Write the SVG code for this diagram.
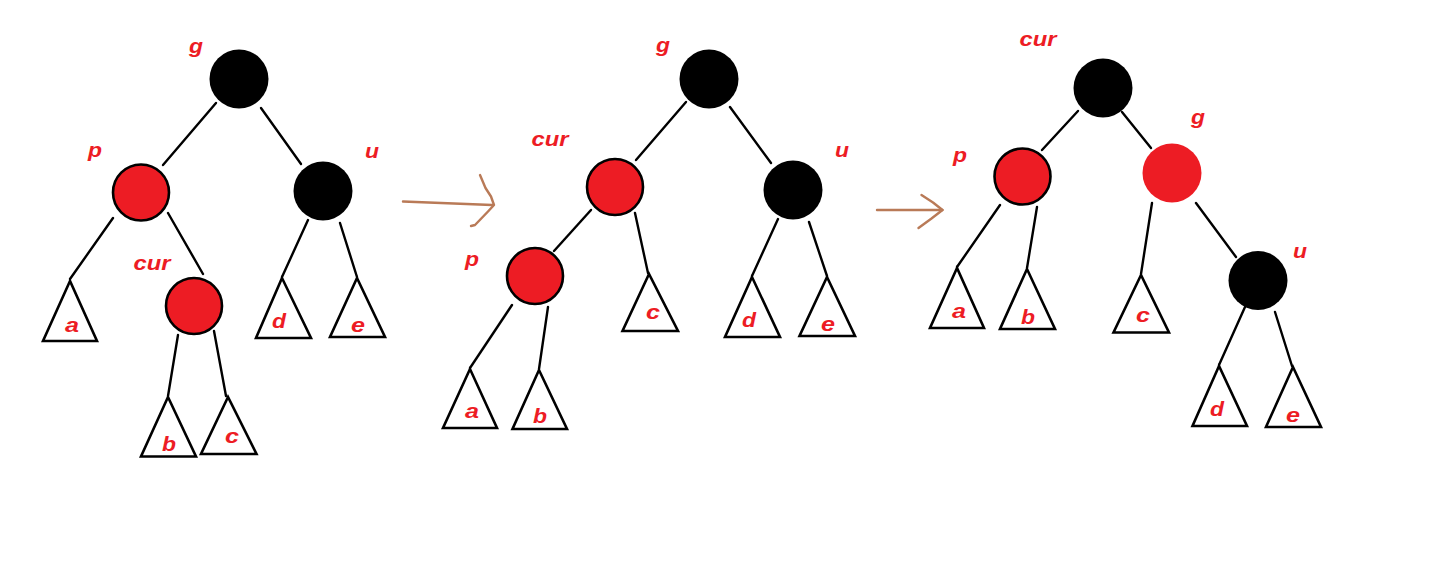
<svg xmlns="http://www.w3.org/2000/svg" width="1437" height="568" viewBox="0 0 1437 568">
<style>
.edge{stroke:#000;stroke-width:2.4;fill:none;stroke-linecap:round}
.red{fill:#ED1C24;stroke:#000;stroke-width:2.6}
.redn{fill:#ED1C24}
.blk{fill:#000}
.tri{fill:#fff;stroke:#000;stroke-width:2.6;stroke-linejoin:miter}
.lbl{font-family:"Liberation Sans",Arial,sans-serif;font-weight:bold;font-style:italic;font-size:21px;fill:#ED1C24;text-anchor:middle}
.arr{stroke:#B97A57;stroke-width:2.4;fill:none;stroke-linecap:round;stroke-linejoin:round}
</style>
<rect width="1437" height="568" fill="#fff"/>
<g id="connectors">
<!-- left tree -->
<line class="edge" x1="216" y1="103" x2="163" y2="165"/>
<line class="edge" x1="261" y1="108" x2="301" y2="164"/>
<line class="edge" x1="113" y1="218" x2="70" y2="279"/>
<line class="edge" x1="168" y1="213" x2="203" y2="274"/>
<line class="edge" x1="308" y1="220" x2="282" y2="277"/>
<line class="edge" x1="340" y1="223" x2="357" y2="277"/>
<line class="edge" x1="178" y1="335" x2="168" y2="396"/>
<line class="edge" x1="214" y1="331" x2="226" y2="396"/>
<!-- middle tree -->
<line class="edge" x1="686" y1="102" x2="636" y2="160"/>
<line class="edge" x1="730" y1="107" x2="771" y2="163"/>
<line class="edge" x1="591" y1="210" x2="554" y2="251"/>
<line class="edge" x1="635" y1="213" x2="648" y2="273"/>
<line class="edge" x1="778" y1="219" x2="752" y2="276"/>
<line class="edge" x1="809" y1="222" x2="827" y2="276"/>
<line class="edge" x1="512" y1="305" x2="470" y2="368"/>
<line class="edge" x1="548" y1="307" x2="539" y2="369"/>
<!-- right tree -->
<line class="edge" x1="1078" y1="111" x2="1042" y2="150"/>
<line class="edge" x1="1122" y1="112" x2="1151" y2="148"/>
<line class="edge" x1="1000" y1="205" x2="957" y2="267"/>
<line class="edge" x1="1037" y1="207" x2="1027" y2="268"/>
<line class="edge" x1="1152" y1="203" x2="1141" y2="274"/>
<line class="edge" x1="1196" y1="203" x2="1236" y2="257"/>
<line class="edge" x1="1245" y1="307" x2="1219" y2="365"/>
<line class="edge" x1="1275" y1="312" x2="1292" y2="366"/>
<!-- transition arrows -->
<path class="arr" d="M403,201.5 L492,205"/>
<path class="arr" d="M480,175 L485.5,188 L491,196.5 L494,205 L488,211.5 L475,225 L471,226"/>
<path class="arr" d="M877,210 L942.5,210"/>
<path class="arr" d="M921.5,195 L933,202.5 L942.5,210 L931.5,218.5 L918.5,228"/>
</g>

<!-- left tree -->
<g id="L-g"><circle class="blk" cx="239" cy="79" r="29.5"/><text class="lbl" x="196" y="53" textLength="14" lengthAdjust="spacingAndGlyphs">g</text></g>
<g id="L-p"><circle class="red" cx="141" cy="192.5" r="28"/><text class="lbl" x="95" y="157" textLength="14" lengthAdjust="spacingAndGlyphs">p</text></g>
<g id="L-u"><circle class="blk" cx="323" cy="191" r="29.5"/><text class="lbl" x="372" y="158" textLength="14" lengthAdjust="spacingAndGlyphs">u</text></g>
<g id="L-cur"><circle class="red" cx="194" cy="306" r="28"/><text class="lbl" x="152" y="270" textLength="37" lengthAdjust="spacingAndGlyphs">cur</text></g>
<g id="L-a"><polygon class="tri" points="70,281 43,341 97,341"/><text class="lbl" x="72" y="332" textLength="14" lengthAdjust="spacingAndGlyphs">a</text></g>
<g id="L-b"><polygon class="tri" points="168,397 141,456.5 196,456.5"/><text class="lbl" x="169" y="451" textLength="14" lengthAdjust="spacingAndGlyphs">b</text></g>
<g id="L-c"><polygon class="tri" points="228,397 201,454 256.5,454"/><text class="lbl" x="232" y="443" textLength="14" lengthAdjust="spacingAndGlyphs">c</text></g>
<g id="L-d"><polygon class="tri" points="282,278 256,338 311,338"/><text class="lbl" x="279" y="328" textLength="14" lengthAdjust="spacingAndGlyphs">d</text></g>
<g id="L-e"><polygon class="tri" points="357,278 330,337 385,337"/><text class="lbl" x="358" y="332" textLength="14" lengthAdjust="spacingAndGlyphs">e</text></g>

<!-- middle tree -->
<g id="M-g"><circle class="blk" cx="709" cy="79" r="29.5"/><text class="lbl" x="663" y="52" textLength="14" lengthAdjust="spacingAndGlyphs">g</text></g>
<g id="M-cur"><circle class="red" cx="615" cy="187" r="28"/><text class="lbl" x="550" y="146" textLength="37" lengthAdjust="spacingAndGlyphs">cur</text></g>
<g id="M-u"><circle class="blk" cx="793" cy="190" r="29.5"/><text class="lbl" x="842" y="157" textLength="14" lengthAdjust="spacingAndGlyphs">u</text></g>
<g id="M-p"><circle class="red" cx="535" cy="276" r="28"/><text class="lbl" x="472" y="266" textLength="14" lengthAdjust="spacingAndGlyphs">p</text></g>
<g id="M-a"><polygon class="tri" points="470,369 443,428 497,428"/><text class="lbl" x="472" y="418" textLength="14" lengthAdjust="spacingAndGlyphs">a</text></g>
<g id="M-b"><polygon class="tri" points="539,370 512.5,429 567,429"/><text class="lbl" x="540" y="423" textLength="14" lengthAdjust="spacingAndGlyphs">b</text></g>
<g id="M-c"><polygon class="tri" points="649,274 622.5,331 678,331"/><text class="lbl" x="653" y="319" textLength="14" lengthAdjust="spacingAndGlyphs">c</text></g>
<g id="M-d"><polygon class="tri" points="752,277 725,337 780,337"/><text class="lbl" x="749" y="327" textLength="14" lengthAdjust="spacingAndGlyphs">d</text></g>
<g id="M-e"><polygon class="tri" points="827,277 799.5,336 855,336"/><text class="lbl" x="828" y="331" textLength="14" lengthAdjust="spacingAndGlyphs">e</text></g>

<!-- right tree -->
<g id="R-cur"><circle class="blk" cx="1103" cy="88" r="29.5"/><text class="lbl" x="1038" y="46" textLength="37" lengthAdjust="spacingAndGlyphs">cur</text></g>
<g id="R-g"><circle class="redn" cx="1172" cy="173" r="29.5"/><text class="lbl" x="1198" y="124" textLength="14" lengthAdjust="spacingAndGlyphs">g</text></g>
<g id="R-p"><circle class="red" cx="1022.5" cy="176.5" r="28"/><text class="lbl" x="960" y="162" textLength="14" lengthAdjust="spacingAndGlyphs">p</text></g>
<g id="R-u"><circle class="blk" cx="1258" cy="280.5" r="29.5"/><text class="lbl" x="1300" y="258" textLength="14" lengthAdjust="spacingAndGlyphs">u</text></g>
<g id="R-a"><polygon class="tri" points="957,268 930,328 984,328"/><text class="lbl" x="959" y="318" textLength="14" lengthAdjust="spacingAndGlyphs">a</text></g>
<g id="R-b"><polygon class="tri" points="1027,269 1000,329 1055,329"/><text class="lbl" x="1028" y="324" textLength="14" lengthAdjust="spacingAndGlyphs">b</text></g>
<g id="R-c"><polygon class="tri" points="1141,275 1113.5,332.5 1169,332.5"/><text class="lbl" x="1143" y="322" textLength="14" lengthAdjust="spacingAndGlyphs">c</text></g>
<g id="R-d"><polygon class="tri" points="1219,366 1192.5,426 1247,426"/><text class="lbl" x="1217" y="416" textLength="14" lengthAdjust="spacingAndGlyphs">d</text></g>
<g id="R-e"><polygon class="tri" points="1293,367 1266,427 1321,427"/><text class="lbl" x="1293" y="422" textLength="14" lengthAdjust="spacingAndGlyphs">e</text></g>
</svg>
